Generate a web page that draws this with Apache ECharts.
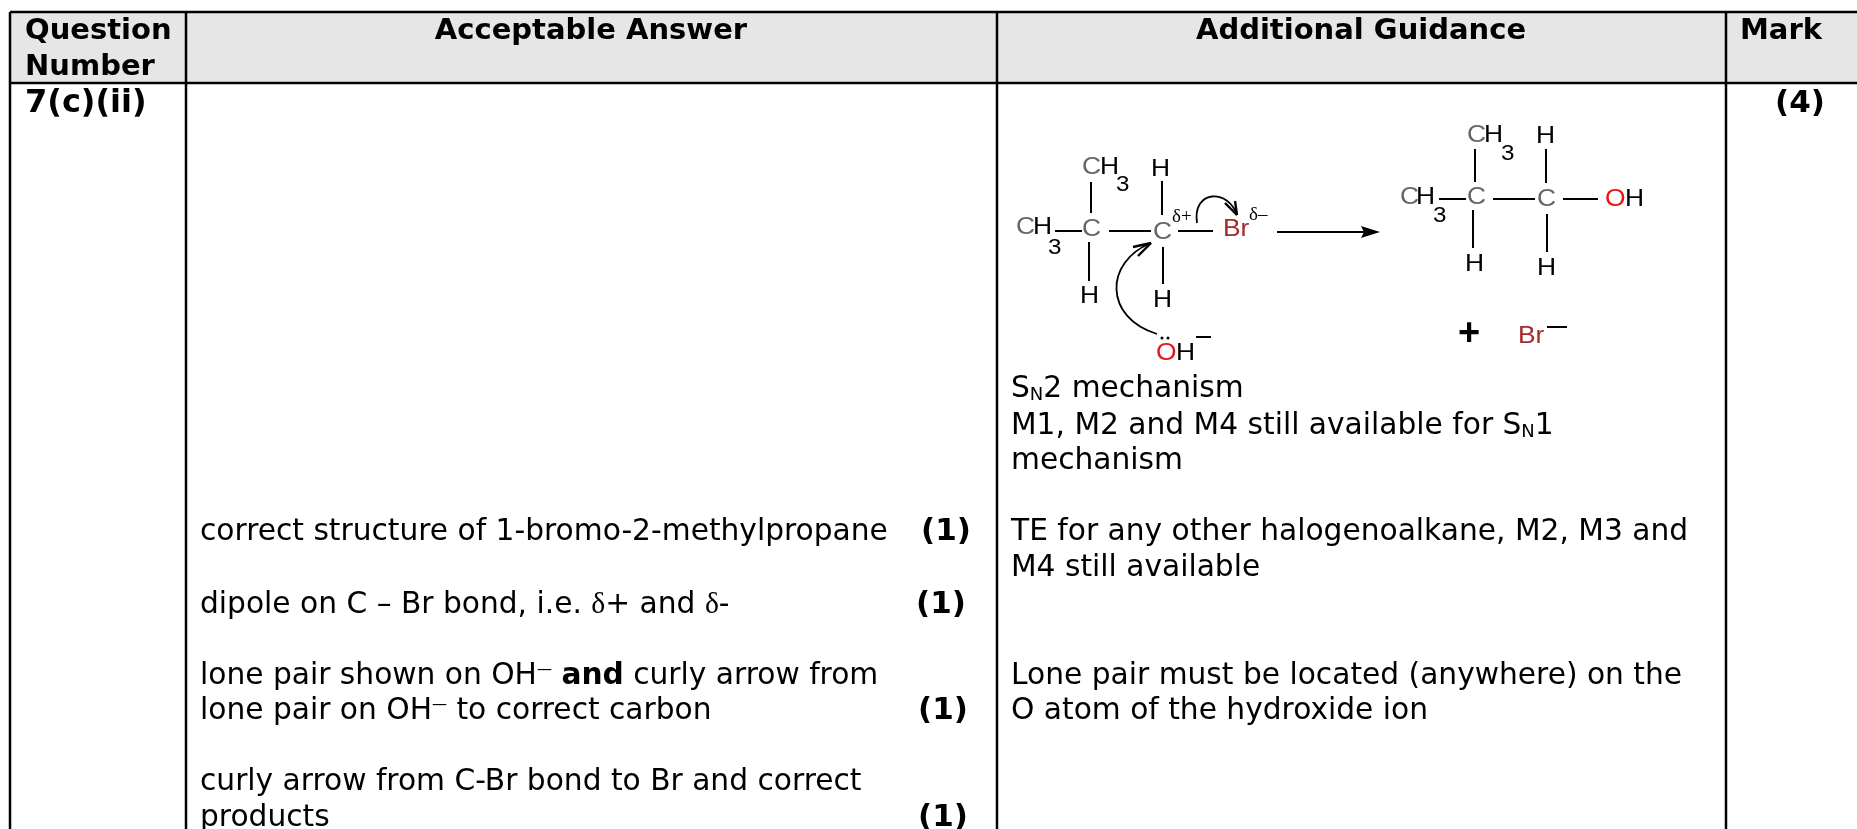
<!DOCTYPE html>
<html>
<head>
<meta charset="utf-8">
<style>html,body{margin:0;padding:0;background:#fff}#main{width:1857px;height:829px}</style>
<script src="https://cdn.jsdelivr.net/npm/echarts@6/dist/echarts.min.js"></script>
</head>
<body>
<div id="main"></div>
<script>
const headers = ['Question\nNumber', 'Acceptable Answer', 'Additional Guidance', 'Mark']
const questionNumber = '7(c)(ii)'
const totalMark = '(4)'
const answerLines = [
    'correct structure of 1-bromo-2-methylpropane',
    'dipole on C – Br bond, i.e. {g|δ}+ and {g|δ}-',
    'lone pair shown on OH{sup|—} {b|and} curly arrow from',
    'lone pair on OH{sup|—} to correct carbon',
    'curly arrow from C-Br bond to Br and correct',
    'products',
]
const answerMarks = ['(1)', '(1)', '(1)', '(1)']
const guidanceLines = [
    'S{sub|N}2 mechanism',
    'M1, M2 and M4 still available for S{sub|N}1',
    'mechanism',
    'TE for any other halogenoalkane, M2, M3 and',
    'M4 still available',
    'Lone pair must be located (anywhere) on the',
    'O atom of the hydroxide ion',
]

// layout of the sheet, px
const colX = [10, 186, 997, 1726]
const topY = 12
const headY = 83
const answerY = [532, 605, 676, 711, 782, 818]
const answerMarkPos = [[921, 532], [916, 605], [918, 711], [918, 818]]
const guidanceY = [389, 426, 461, 532, 568, 676, 711]

const BODY = '"DejaVu Sans"'
const ARIAL = '"Liberation Sans"'
const GREY = '#666666'
const BROWN = '#a52a2a'
const RED = '#ee1111'
const bodySize = 29.7
const headSize = 29
const markSize = 31
const rich = {
    b: { fontFamily: BODY, fontSize: bodySize, fontWeight: 'bold', fill: '#000' },
    g: { fontFamily: '"Liberation Serif"', fontSize: bodySize, fill: '#000' },
    sup: { fontFamily: BODY, fontSize: 15, fill: '#000', verticalAlign: 'top', padding: [5, 0, 0, 0] },
    sub: { fontFamily: BODY, fontSize: 18, fill: '#000', verticalAlign: 'bottom', padding: [0, 0, 3, 0] },
}

const els = []

function text(t, x, y, size, bold, align) {
    els.push({
        type: 'text', x: x, y: y, z: 5,
        style: {
            text: t, fontFamily: BODY, fontSize: size, fontWeight: bold ? 'bold' : 'normal',
            fill: '#000', align: align || 'left', verticalAlign: 'middle', lineHeight: 36, rich: rich,
        },
    })
}

function line(x1, y1, x2, y2, width) {
    els.push({
        type: 'line', z: 4,
        shape: { x1: x1, y1: y1, x2: x2, y2: y2 },
        style: { stroke: '#000', lineWidth: width || 2 },
    })
}

// atom label, placed by its baseline; the source drawing is a little stretched sideways
function atom(t, x, base, color, size) {
    const fs = size || 24
    els.push({
        type: 'text', x: x, y: base - fs * 0.36, z: 5, scaleX: 1.1,
        style: { text: t, fontFamily: ARIAL, fontSize: fs, fill: color || '#000', verticalAlign: 'middle' },
    })
}

function curve(x1, y1, cx1, cy1, cx2, cy2, x2, y2) {
    els.push({
        type: 'bezierCurve', z: 4,
        shape: { x1: x1, y1: y1, cpx1: cx1, cpy1: cy1, cpx2: cx2, cpy2: cy2, x2: x2, y2: y2 },
        style: { stroke: '#000', lineWidth: 1.8, fill: null },
    })
}

// header band and rules
els.push({ type: 'rect', z: 1, shape: { x: colX[0], y: topY, width: 1857 - colX[0], height: headY - topY }, style: { fill: '#e6e6e6' } })
line(colX[0], topY, 1857, topY, 2.5)
line(colX[0], headY, 1857, headY, 2.5)
colX.forEach(x => line(x, topY, x, 829, 2.5))

// header text
text(headers[0], 25, 49, headSize, true)
text(headers[1], 591, 31, headSize, true, 'center')
text(headers[2], 1361, 31, headSize, true, 'center')
text(headers[3], 1740, 31, headSize, true)
text(questionNumber, 25, 104, 32, true)
text(totalMark, 1775, 104, markSize, true)

answerLines.forEach((t, i) => text(t, 200, answerY[i], bodySize))
answerMarks.forEach((t, i) => text(t, answerMarkPos[i][0], answerMarkPos[i][1], markSize, true))
guidanceLines.forEach((t, i) => text(t, 1011, guidanceY[i], bodySize))

// reactant
atom('C', 1016, 236, GREY); atom('H', 1033, 236); atom('3', 1048, 256, '#000', 22)
atom('C', 1082, 176, GREY); atom('H', 1100, 176); atom('3', 1116, 193, '#000', 22)
atom('H', 1151, 178)
atom('C', 1082, 238, GREY); atom('C', 1153, 241, GREY)
atom('H', 1080, 305); atom('H', 1153, 309)
atom('Br', 1223, 238, BROWN)
line(1055, 231, 1082, 231); line(1091, 182, 1091, 213); line(1089, 242, 1089, 281)
line(1109, 231, 1151, 231); line(1162, 181, 1162, 215); line(1163, 247, 1163, 284)
line(1178, 231, 1213, 231)
els.push({ type: 'text', x: 1172, y: 217, z: 5, style: { text: 'δ+', fontFamily: '"Liberation Serif"', fontSize: 19, fill: '#000', verticalAlign: 'middle' } })
els.push({ type: 'text', x: 1249, y: 215, z: 5, style: { text: 'δ–', fontFamily: '"Liberation Serif"', fontSize: 19, fill: '#000', verticalAlign: 'middle' } })

// curly arrows
curve(1197, 223, 1192, 190, 1228, 188, 1237, 215)
line(1225, 203, 1237, 215, 2.4); line(1235, 201, 1237, 215, 2.4)
curve(1157, 334, 1104, 318, 1104, 262, 1151, 243)
line(1133, 247, 1151, 243, 2.4); line(1138, 256, 1151, 243, 2.4)

// hydroxide
atom('O', 1156, 362, RED); atom('H', 1176, 362)
line(1196, 337, 1211, 337)
els.push({ type: 'circle', z: 5, shape: { cx: 1162, cy: 338, r: 1.5 }, style: { fill: '#000' } })
els.push({ type: 'circle', z: 5, shape: { cx: 1168, cy: 338, r: 1.5 }, style: { fill: '#000' } })

// reaction arrow
line(1277, 232, 1368, 232, 2)
els.push({ type: 'polygon', z: 5, shape: { points: [[1380, 232], [1361, 226], [1364, 232], [1361, 238]] }, style: { fill: '#000' } })

// product
atom('C', 1467, 144, GREY); atom('H', 1484, 144); atom('3', 1501, 162, '#000', 22)
atom('H', 1536, 145)
atom('C', 1400, 206, GREY); atom('H', 1416, 206); atom('3', 1433, 224, '#000', 22)
atom('C', 1467, 206, GREY); atom('C', 1537, 208, GREY)
atom('O', 1605, 208, RED); atom('H', 1625, 208)
atom('H', 1465, 273); atom('H', 1537, 277)
line(1439, 199, 1466, 199); line(1475, 149, 1475, 182); line(1473, 210, 1473, 248)
line(1493, 199, 1535, 199); line(1546, 149, 1546, 183); line(1547, 214, 1547, 252)
line(1563, 199, 1598, 199)
els.push({ type: 'text', x: 1469, y: 335, z: 5, style: { text: '+', fontFamily: ARIAL, fontSize: 38, fontWeight: 'bold', fill: '#000', align: 'center', verticalAlign: 'middle' } })
atom('Br', 1518, 345, BROWN)
line(1547, 327, 1567, 327)

const chart = echarts.init(document.getElementById('main'))
chart.setOption({
    backgroundColor: '#fff',
    animation: false,
    graphic: { elements: els },
})
</script>
</body>
</html>
